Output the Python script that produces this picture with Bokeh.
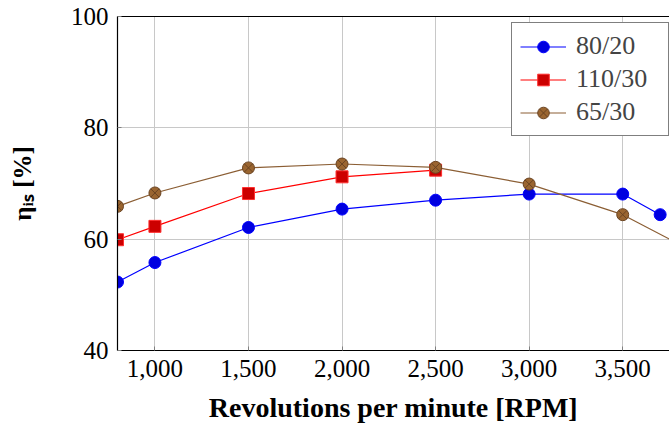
from bokeh.plotting import figure
from bokeh.models import LinearAxis, NumeralTickFormatter, FixedTicker, Range1d, Legend, LegendItem
from bokeh.embed import file_html
from bokeh.resources import INLINE

# ---- data ----
rpm_a = [800, 1000, 1500, 2000, 2500, 3000, 3500, 3700]
eff_a = [52.3, 55.8, 62.1, 65.4, 67.0, 68.1, 68.1, 64.4]   # 80/20

rpm_b = [800, 1000, 1500, 2000, 2500]
eff_b = [59.9, 62.3, 68.2, 71.2, 72.4]                     # 110/30

rpm_c = [800, 1000, 1500, 2000, 2500, 3000, 3500, 4000]
eff_c = [65.9, 68.3, 72.8, 73.5, 72.9, 69.9, 64.4, 55.6]   # 65/30

x_ticks = [1000, 1500, 2000, 2500, 3000, 3500]
y_ticks = [40, 60, 80, 100]
series_names = ["80/20", "110/30", "65/30"]

FONT = "Liberation Serif"

p = figure(width=669, height=426, output_backend="svg", toolbar_location=None,
           x_range=Range1d(800, 3750), y_range=Range1d(40, 100),
           min_border_left=117, min_border_right=0, min_border_top=16,
           min_border_bottom=76)
p.outline_line_color = None
p.background_fill_color = "white"
p.border_fill_color = "white"

# grid
p.xgrid.ticker = FixedTicker(ticks=x_ticks)
p.ygrid.ticker = FixedTicker(ticks=y_ticks)
p.grid.grid_line_color = "#c8c8c8"
p.grid.grid_line_width = 1

for ax in (p.xaxis[0], p.yaxis[0]):
    ax.axis_line_color = "black"
    ax.axis_line_width = 1.2
    ax.major_tick_in = 4
    ax.major_tick_out = 0
    ax.minor_tick_in = 0
    ax.minor_tick_out = 0
    ax.major_tick_line_color = "#808080"
    ax.major_label_text_font = FONT
    ax.major_label_text_font_size = "25px"
    ax.major_label_text_color = "black"
    ax.axis_label_text_font = FONT
    ax.axis_label_text_font_style = "bold"
    ax.axis_label_text_color = "black"

p.xaxis.ticker = FixedTicker(ticks=x_ticks)
p.xaxis.formatter = NumeralTickFormatter(format="0,0")
p.xaxis.major_label_standoff = 9
p.xaxis.axis_label = "Revolutions per minute [RPM]"
p.xaxis.axis_label_text_font_size = "28px"
p.xaxis.axis_label_standoff = 12

p.yaxis.ticker = FixedTicker(ticks=y_ticks)
p.yaxis.major_label_standoff = 9
p.yaxis.axis_label = "η\u1d62\u209b [%]"
p.yaxis.axis_label_text_font_size = "25px"
p.yaxis.axis_label_standoff = 32

# top border of the frame
top = LinearAxis(ticker=FixedTicker(ticks=[]), axis_line_color="black", axis_line_width=1.2,
                 major_tick_in=0, major_tick_out=0, minor_tick_in=0, minor_tick_out=0,
                 major_label_text_font_size="0px", major_label_standoff=0)
p.add_layout(top, "above")

# series
la = p.line(rpm_a, eff_a, line_color="#0000ff", line_width=1.2)
sa = p.scatter(rpm_a, eff_a, marker="circle", size=12, fill_color="#0000e0", line_color="#0000ff")

lb = p.line(rpm_b, eff_b, line_color="#ff0000", line_width=1.2)
sb = p.scatter(rpm_b, eff_b, marker="square", size=12, fill_color="#cc0000", line_color="#ff3030")

lc = p.line(rpm_c, eff_c, line_color="#8b5e34", line_width=1.2)
sc = p.scatter(rpm_c, eff_c, marker="circle_x", size=12, fill_color="#9a6530", line_color="#6b4422")

legend = Legend(items=[LegendItem(label=series_names[0], renderers=[la, sa]),
                       LegendItem(label=series_names[1], renderers=[lb, sb]),
                       LegendItem(label=series_names[2], renderers=[lc, sc])],
                location=(394, 214))
legend.label_text_font = FONT
legend.label_text_font_size = "26px"
legend.border_line_color = "black"
legend.border_line_width = 1
legend.background_fill_alpha = 1
legend.glyph_width = 46
legend.glyph_height = 29
legend.label_width = 84
legend.label_height = 29
legend.label_standoff = 10
legend.spacing = 3
legend.padding = 8
legend.margin = 0
p.add_layout(legend, "center")

open("out.html", "w").write(file_html(p, INLINE))
